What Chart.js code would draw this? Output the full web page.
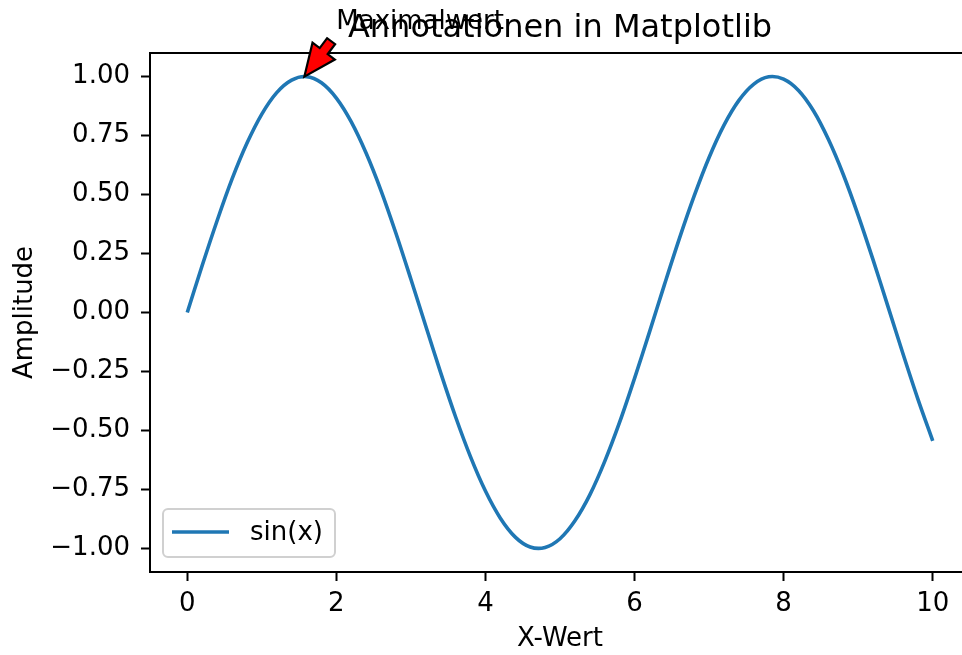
<!DOCTYPE html>
<html>
<head>
<meta charset="utf-8">
<script src="https://cdn.jsdelivr.net/npm/chart.js@4.4.0/dist/chart.umd.min.js"></script>
<style>
  body { margin: 0; overflow: hidden; background: #fff; }
  #wrap { width: 980px; height: 655px; }
</style>
</head>
<body>
<div id="wrap"><canvas id="sinchart" width="980" height="655"></canvas></div>
<script>
// data
const xValues = [0, 0.2, 0.4, 0.6, 0.8, 1, 1.2, 1.4, 1.6, 1.8, 2, 2.2, 2.4, 2.6, 2.8, 3, 3.2, 3.4, 3.6, 3.8,
  4, 4.2, 4.4, 4.6, 4.8, 5, 5.2, 5.4, 5.6, 5.8, 6, 6.2, 6.4, 6.6, 6.8, 7, 7.2, 7.4, 7.6, 7.8,
  8, 8.2, 8.4, 8.6, 8.8, 9, 9.2, 9.4, 9.6, 9.8, 10];
const sinValues = [0.000, 0.199, 0.389, 0.565, 0.717, 0.841, 0.932, 0.985, 1.000, 0.974,
  0.909, 0.808, 0.675, 0.516, 0.335, 0.141, -0.058, -0.256, -0.443, -0.612,
  -0.757, -0.872, -0.952, -0.994, -0.996, -0.959, -0.883, -0.773, -0.631, -0.465,
  -0.279, -0.083, 0.117, 0.312, 0.494, 0.657, 0.794, 0.899, 0.968, 0.999,
  0.989, 0.941, 0.855, 0.734, 0.585, 0.412, 0.223, 0.025, -0.174, -0.366, -0.544];
const xTicks = [0, 2, 4, 6, 8, 10];
const yTicks = [-1, -0.75, -0.5, -0.25, 0, 0.25, 0.5, 0.75, 1];
const yTickLabels = ['\u22121.00', '\u22120.75', '\u22120.50', '\u22120.25', '0.00', '0.25', '0.50', '0.75', '1.00'];
const annotationText = 'Maximalwert';
const annotationTip = [1.5708, 1.0];
const annotationTail = [1.93, 1.15];
const annotationTextPos = [2.0, 1.2];

const FONT = 'DejaVu Sans';
const FS = 26;
const blue = '#1f77b4';

const extras = {
  id: 'extras',
  afterDraw(chart) {
    const ctx = chart.ctx;
    const area = chart.chartArea;
    const xs = chart.scales.x, ys = chart.scales.y;
    ctx.save();
    // top spine
    ctx.strokeStyle = '#000';
    ctx.lineWidth = 2;
    ctx.beginPath();
    ctx.moveTo(area.left - 1, area.top);
    ctx.lineTo(area.right, area.top);
    ctx.stroke();

    // legend
    const lx = area.left + 13, ly = area.bottom - 63, lw = 172, lh = 48;
    ctx.beginPath();
    ctx.roundRect(lx, ly, lw, lh, 5);
    ctx.fillStyle = 'rgba(255,255,255,0.8)';
    ctx.fill();
    ctx.strokeStyle = '#d0d0d0';
    ctx.lineWidth = 2;
    ctx.stroke();
    ctx.strokeStyle = blue;
    ctx.lineWidth = 3.6;
    ctx.beginPath();
    ctx.moveTo(lx + 9, ly + 23);
    ctx.lineTo(lx + 66, ly + 23);
    ctx.stroke();
    ctx.fillStyle = '#000';
    ctx.font = FS + 'px "' + FONT + '"';
    ctx.textBaseline = 'middle';
    ctx.textAlign = 'left';
    ctx.fillText(chart.data.datasets[0].label, lx + 87, ly + 24);

    // title centred on the plot area
    ctx.font = '32px "' + FONT + '"';
    ctx.textAlign = 'center';
    ctx.textBaseline = 'alphabetic';
    ctx.fillText('Annotationen in Matplotlib', (area.left + area.right) / 2, area.top - 16);

    // annotation arrow
    const tx = xs.getPixelForValue(annotationTip[0]), ty = ys.getPixelForValue(annotationTip[1]);
    const sx = xs.getPixelForValue(annotationTail[0]), sy = ys.getPixelForValue(annotationTail[1]);
    const len = Math.hypot(tx - sx, ty - sy);
    const ux = (tx - sx) / len, uy = (ty - sy) / len;
    const nx = -uy, ny = ux;
    const hl = 32, hw = 14, sw = 5;
    const bx = tx - ux * hl, by = ty - uy * hl;
    ctx.beginPath();
    ctx.moveTo(sx + nx * sw, sy + ny * sw);
    ctx.lineTo(bx + nx * sw, by + ny * sw);
    ctx.lineTo(bx + nx * hw, by + ny * hw);
    ctx.lineTo(tx, ty);
    ctx.lineTo(bx - nx * hw, by - ny * hw);
    ctx.lineTo(bx - nx * sw, by - ny * sw);
    ctx.lineTo(sx - nx * sw, sy - ny * sw);
    ctx.closePath();
    ctx.fillStyle = '#ff0000';
    ctx.fill();
    ctx.strokeStyle = '#000';
    ctx.lineWidth = 2.2;
    ctx.lineJoin = 'miter';
    ctx.stroke();

    // annotation text
    ctx.fillStyle = '#000';
    ctx.font = FS + 'px "' + FONT + '"';
    ctx.textAlign = 'left';
    ctx.textBaseline = 'alphabetic';
    ctx.fillText(annotationText, xs.getPixelForValue(annotationTextPos[0]), ys.getPixelForValue(annotationTextPos[1]));
    ctx.restore();
  }
};

new Chart(document.getElementById('sinchart'), {
  type: 'line',
  data: {
    datasets: [{
      label: 'sin(x)',
      data: xValues.map((x, i) => ({x: x, y: sinValues[i]})),
      borderColor: blue,
      borderWidth: 3.6,
      pointRadius: 0,
      tension: 0.33,
      fill: false
    }]
  },
  options: {
    responsive: false,
    animation: false,
    layout: { padding: { left: 0, top: 53, right: 10, bottom: 0 } },
    plugins: {
      legend: { display: false },
      title: { display: false },
      tooltip: { enabled: false }
    },
    scales: {
      x: {
        type: 'linear',
        min: -0.5,
        max: 10.5,
        afterBuildTicks: s => { s.ticks = xTicks.map(v => ({value: v})); },
        afterFit: s => { s.height = 83; },
        grid: { drawOnChartArea: false, tickLength: 9, tickColor: '#000', tickWidth: 2 },
        border: { color: '#000', width: 2 },
        ticks: { color: '#000', font: { family: FONT, size: FS }, padding: 8, maxRotation: 0 },
        title: { display: true, text: 'X-Wert', color: '#000', font: { family: FONT, size: FS }, padding: { top: 0, bottom: 0 } }
      },
      y: {
        min: -1.1,
        max: 1.1,
        afterBuildTicks: s => { s.ticks = yTicks.map(v => ({value: v})); },
        afterFit: s => { s.width = 150; },
        grid: { drawOnChartArea: false, tickLength: 9, tickColor: '#000', tickWidth: 2 },
        border: { color: '#000', width: 2 },
        ticks: {
          color: '#000', font: { family: FONT, size: FS }, padding: 11,
          callback: v => yTickLabels[yTicks.indexOf(v)]
        },
        title: { display: true, text: 'Amplitude', color: '#000', font: { family: FONT, size: FS }, padding: { top: 10, bottom: 0 } }
      }
    }
  },
  plugins: [extras]
});
</script>
</body>
</html>
